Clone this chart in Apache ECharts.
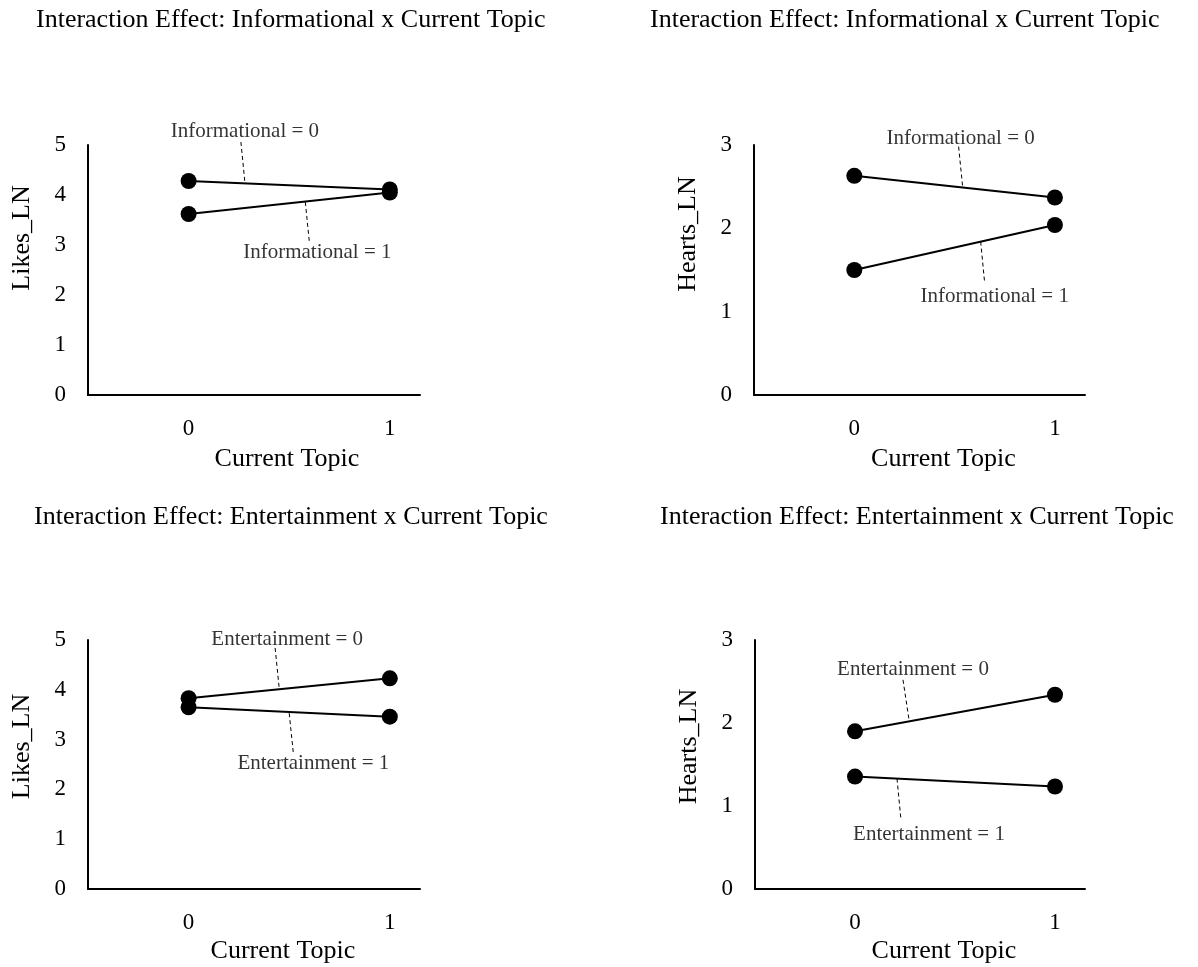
<!DOCTYPE html>
<html>
<head>
<meta charset="utf-8">
<script src="https://cdn.jsdelivr.net/npm/echarts@6/dist/echarts.min.js"></script>
<style>
html,body{margin:0;padding:0;background:#fff;}
#chart{width:1198px;height:967px;}
</style>
</head>
<body>
<div id="chart"></div>
<script>
// ---- data ----
const topics = [0, 1];
const xTickLabels = ['0', '1'];
const likesInfo0 = [4.28, 4.11];
const likesInfo1 = [3.62, 4.05];
const heartsInfo0 = [2.63, 2.37];
const heartsInfo1 = [1.50, 2.04];
const likesEnt0 = [3.83, 4.23];
const likesEnt1 = [3.65, 3.46];
const heartsEnt0 = [1.90, 2.34];
const heartsEnt1 = [1.355, 1.235];

const titles = [
  'Interaction Effect: Informational x Current Topic',
  'Interaction Effect: Informational x Current Topic',
  'Interaction Effect: Entertainment x Current Topic',
  'Interaction Effect: Entertainment x Current Topic'
];
const yNames = ['Likes_LN', 'Hearts_LN', 'Likes_LN', 'Hearts_LN'];
const yMaxes = [5, 3, 5, 3];
const xName = 'Current Topic';
const annoText = [
  ['Informational = 0', 'Informational = 1'],
  ['Informational = 0', 'Informational = 1'],
  ['Entertainment = 0', 'Entertainment = 1'],
  ['Entertainment = 0', 'Entertainment = 1']
];

// annotation placement in data coordinates: [labelPos, leaderFrom, leaderTo]
const annoPlace = [
  [[[0.28, 5.28], [0.26, 5.06], [0.28, 4.24]], [[0.64, 2.86], [0.58, 3.86], [0.60, 3.06]]],
  [[[0.53, 3.08], [0.52, 2.98], [0.54, 2.50]], [[0.70, 1.18], [0.63, 1.84], [0.65, 1.34]]],
  [[[0.49, 5.02], [0.43, 4.84], [0.45, 4.04]], [[0.62, 2.53], [0.50, 3.53], [0.52, 2.75]]],
  [[[0.29, 2.65], [0.24, 2.52], [0.27, 2.04]], [[0.37, 0.66], [0.21, 1.33], [0.23, 0.83]]]
];

const panelSeries = [
  [likesInfo0, likesInfo1],
  [heartsInfo0, heartsInfo1],
  [likesEnt0, likesEnt1],
  [heartsEnt0, heartsEnt1]
];

// ---- layout ----
const grids = [
  {left: 88, top: 145, width: 332, height: 250},
  {left: 754, top: 145, width: 331, height: 250},
  {left: 88, top: 640, width: 332, height: 249},
  {left: 755, top: 640, width: 330, height: 249}
];
const titlePos = [
  {left: 36, top: 7},
  {left: 650, top: 7},
  {left: 34, top: 504},
  {left: 660, top: 504}
];
const yNameShift = [64, 72, 36, 36];
const xNameShift = [66, 48, 58, 48];

const FONT = '"Liberation Serif", "Times New Roman", serif';

const option = {
  animation: false,
  backgroundColor: '#fff',
  textStyle: {fontFamily: FONT, color: '#000'},
  title: titles.map((t, i) => ({
    text: t, left: titlePos[i].left, top: titlePos[i].top, padding: 0,
    textStyle: {fontFamily: FONT, fontSize: 26, fontWeight: 'normal', color: '#000'}
  })),
  grid: grids.map(g => Object.assign({containLabel: false}, g)),
  xAxis: grids.map((g, i) => ({
    type: 'value', gridIndex: i, min: -0.5, max: 1.15, interval: 0.5,
    name: xName, nameLocation: 'middle', nameGap: i < 2 ? 51 : 49,
    nameTextStyle: {fontFamily: FONT, fontSize: 26, color: '#000', padding: [0, 0, 0, xNameShift[i]]},
    axisLine: {show: true, onZero: false, lineStyle: {color: '#000', width: 2}},
    axisTick: {show: false},
    splitLine: {show: false},
    axisLabel: {
      fontFamily: FONT, fontSize: 23, color: '#000', margin: 22,
      showMinLabel: true, showMaxLabel: true,
      formatter: v => {
        const k = topics.indexOf(Math.round(v * 1000) / 1000);
        return k >= 0 ? xTickLabels[k] : '';
      }
    }
  })),
  yAxis: grids.map((g, i) => ({
    type: 'value', gridIndex: i, min: 0, max: yMaxes[i], interval: 1,
    name: yNames[i], nameLocation: 'middle', nameGap: 53, nameRotate: 90,
    nameTextStyle: {fontFamily: FONT, fontSize: 26, color: '#000', padding: [0, 0, 0, yNameShift[i]]},
    axisLine: {show: true, onZero: false, lineStyle: {color: '#000', width: 2}},
    axisTick: {show: false},
    splitLine: {show: false},
    axisLabel: {fontFamily: FONT, fontSize: 23, color: '#000', margin: 22}
  })),
  series: []
};

panelSeries.forEach((pair, i) => {
  pair.forEach((vals, j) => {
    option.series.push({
      type: 'line', xAxisIndex: i, yAxisIndex: i,
      data: topics.map((t, k) => [t, vals[k]]),
      symbol: 'circle', symbolSize: 16, showSymbol: true,
      lineStyle: {color: '#000', width: 2},
      itemStyle: {color: '#000'},
      silent: true, z: 3
    });
    const p = annoPlace[i][j];
    // dashed leader line
    option.series.push({
      type: 'line', xAxisIndex: i, yAxisIndex: i, clip: false,
      data: [p[1], p[2]], showSymbol: false, symbol: 'none',
      lineStyle: {color: '#000', width: 1, type: [4, 3]},
      silent: true, z: 2
    });
    // annotation text
    option.series.push({
      type: 'scatter', xAxisIndex: i, yAxisIndex: i, clip: false,
      data: [p[0]], symbolSize: 0,
      label: {show: true, position: 'inside', formatter: annoText[i][j],
        fontFamily: FONT, fontSize: 21, color: '#000', textBorderWidth: 0},
      silent: true, z: 4
    });
  });
});

const chart = echarts.init(document.getElementById('chart'), null, {renderer: 'canvas'});
chart.setOption(option);
</script>
</body>
</html>
